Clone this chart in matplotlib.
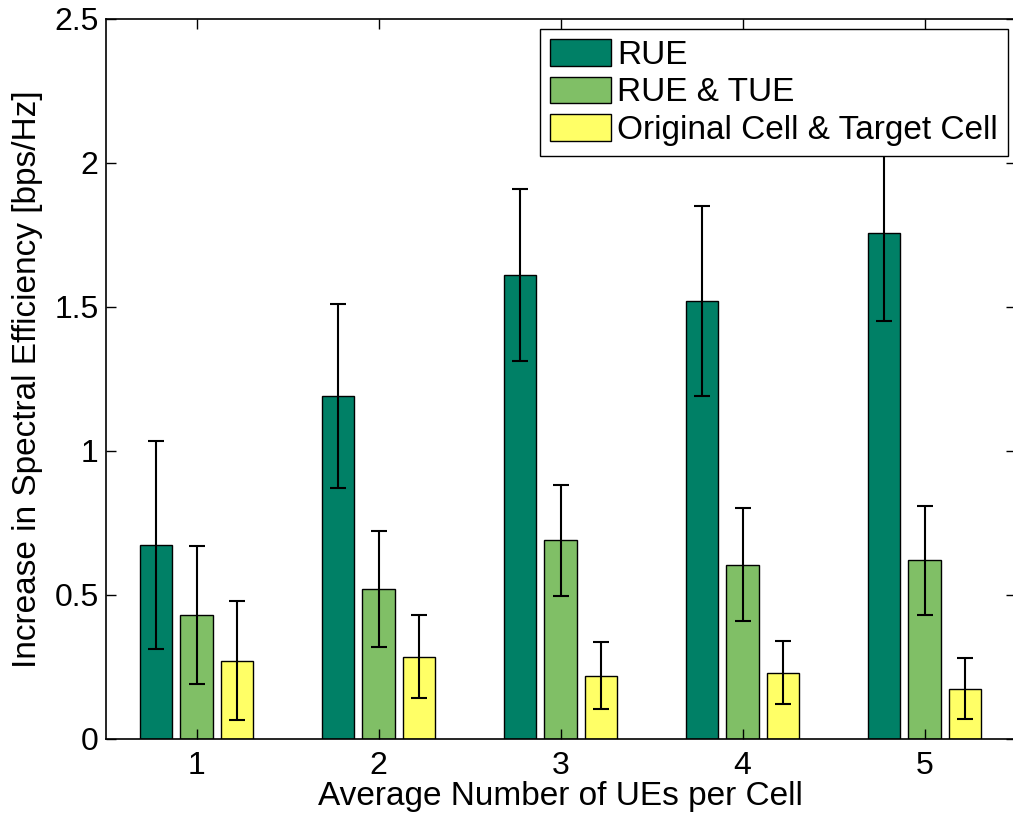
import numpy as np
import matplotlib.pyplot as plt

plt.rcParams['font.family'] = ['Liberation Sans', 'DejaVu Sans']

groups = [1, 2, 3, 4, 5]
labels = ['RUE', 'RUE & TUE', 'Original Cell & Target Cell']
rue = [0.673, 1.19, 1.61, 1.52, 1.755]
rue_err = [0.36, 0.32, 0.30, 0.33, 0.305]
rue_tue = [0.43, 0.52, 0.69, 0.605, 0.62]
rue_tue_err = [0.24, 0.20, 0.193, 0.197, 0.19]
cells = [0.272, 0.286, 0.22, 0.23, 0.175]
cells_err = [0.207, 0.145, 0.115, 0.11, 0.105]

# summer colormap steps
colors = [(0, 0.5, 0.4), (0.5, 0.75, 0.4), (1, 1, 0.4)]

fig = plt.figure(figsize=(10.13, 8.18), dpi=100)
ax = fig.add_axes([105.5 / 1013, 1 - 739 / 818, 910 / 1013, 720.5 / 818])

x = np.array(groups)
offs = [-0.2225, 0, 0.2225]
for vals, errs, off, c, lab in zip([rue, rue_tue, cells], [rue_err, rue_tue_err, cells_err],
                                    offs, colors, labels):
    ax.bar(x + off, vals, width=0.178, color=c, edgecolor='black', linewidth=1, label=lab)
    ax.errorbar(x + off, vals, yerr=errs, fmt='none', ecolor='black', elinewidth=1.5,
                capsize=6, capthick=1.5)

ax.set_xlim(0.5, 5.5)
ax.set_ylim(0, 2.5)
ax.set_xticks(groups)
ax.set_yticks([0, 0.5, 1, 1.5, 2, 2.5])
ax.set_yticklabels(['0', '0.5', '1', '1.5', '2', '2.5'])
ax.tick_params(direction='in', top=True, right=True, labelsize=23, length=7, width=1)
ax.tick_params(axis='y', pad=5)
ax.tick_params(axis='x', pad=9)
for s in ax.spines.values():
    s.set_linewidth(1.2)
ax.set_xlabel('Average Number of UEs per Cell', fontsize=24, labelpad=0)
ax.set_ylabel('Increase in Spectral Efficiency [bps/Hz]', fontsize=24, labelpad=8)

leg = ax.legend(loc='upper right', bbox_to_anchor=(0.9918, 0.9854), fontsize=24,
                frameon=True, fancybox=False, framealpha=1, edgecolor='black',
                handlelength=1.83, handleheight=0.85, labelspacing=0.17, borderpad=0.3,
                handletextpad=0.18, borderaxespad=0)
leg.get_frame().set_linewidth(1)

fig.savefig('out.png', dpi=100)
